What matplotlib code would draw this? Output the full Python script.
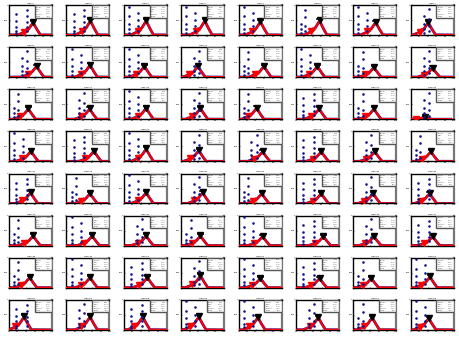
import matplotlib
matplotlib.use("Agg")
import matplotlib.pyplot as plt
from matplotlib.patches import Rectangle

# peak position (x, 0-100) and peak height (y, 0-1000) of each panel, row by row
peak_x = [
    [56, 56, 52, 55, 51, 55, 52, 41],
    [64, 55, 48, 39, 59, 50, 48, 51],
    [45, 54, 52, 45, 42, 54, 48, 33],
    [51, 64, 52, 41, 56, 59, 50, 47],
    [50, 55, 52, 50, 54, 59, 46, 44],
    [56, 60, 52, 45, 56, 64, 48, 51],
    [48, 55, 55, 45, 51, 55, 42, 45],
    [35, 55, 44, 41, 45, 52, 44, 42],
]
peak_h = [
    [410, 470, 470, 470, 440, 470, 420, 410],
    [360, 400, 360, 360, 360, 360, 320, 300],
    [340, 340, 370, 360, 370, 340, 340, 60],
    [340, 340, 410, 360, 320, 320, 320, 320],
    [360, 330, 360, 360, 330, 330, 330, 330],
    [320, 320, 320, 320, 300, 300, 300, 300],
    [340, 340, 340, 400, 310, 310, 310, 360],
    [430, 430, 430, 430, 410, 410, 410, 380],
]

# line shape around the peak (offset in x, fraction of peak height)
shape_dx = [-60, -35, -22, -10, 0, 9, 17, 60]
shape_fy = [0, 0.01, 0.2, 0.5, 1.0, 0.45, 0.01, 0]

# blue dot patterns (x, y)
dots_x = [
    [17, 17, 17, 17, 17, 42, 42, 42, 42, 42],
    [12, 12, 12, 12, 12, 33, 33, 33, 33],
    [30, 30, 30, 30, 42, 42, 42, 42],
    [12, 12, 12, 22, 22, 22, 22],
]
dots_y = [
    [700, 470, 280, 140, 60, 830, 640, 440, 280, 140],
    [950, 620, 380, 200, 80, 750, 500, 300, 120],
    [650, 380, 200, 80, 880, 550, 300, 120],
    [380, 200, 80, 850, 600, 300, 120],
]
dot_pat = [
    [0, 0, 1, 1, 1, 3, 1, 2],
    [2, 1, 1, 2, 3, 1, 3, 2],
    [3, 2, 1, 2, 3, 0, 3, 2],
    [1, 0, 1, 2, 2, 0, 2, 3],
    [0, 3, 1, 2, 3, 0, 2, 0],
    [3, 1, 2, 3, 1, 0, 2, 0],
    [3, 1, 0, 2, 1, 0, 3, 1],
    [0, 2, 0, 1, 1, 2, 3, 1],
]

stat_lines = ["Entries", "Mean", "RMS", "Constant", "Sigma"]
stat_vals = ["2000", "52.31", "11.27", "412.5", "6.21"]

fig = plt.figure(figsize=(4.59, 3.37), dpi=100)
cw, ch = 1 / 8, 1 / 8
fs = 1.6

for r in range(8):
    for c in range(8):
        ax = fig.add_axes([c * cw + 0.157 * cw, (7 - r) * ch + 0.17 * ch,
                           0.75 * cw, 0.71 * ch])
        px, ph = peak_x[r][c], peak_h[r][c]
        lx = [px + d for d in shape_dx]
        ly = [ph * f for f in shape_fy]
        # blue data below red fit
        ax.plot([0] + lx, [0] + ly, color="#1a1a9a", lw=2.0, zorder=2)
        ax.plot(lx, ly, color="red", lw=1.5, zorder=3)
        ax.plot([lx[-1], 100], [0, 0], color="#9b1010", lw=1.0, zorder=3)
        # thick red part on the rise
        ax.plot([px - 22, px - 12], [ph * 0.2, ph * 0.45], color="red",
                lw=3, zorder=4, solid_capstyle="butt")
        ax.plot([px - 20], [ph * 0.28], marker="v", color="red", ms=4,
                zorder=4)
        # peak marker
        ax.plot([px], [ph + 20], marker="v", color="black", ms=5, zorder=5)
        ax.plot([px - 5, px + 5], [ph + 60, ph + 60], color="black", lw=1.2,
                zorder=5)
        p = dot_pat[r][c]
        ax.scatter(dots_x[p], dots_y[p], s=3.5, color="#14148a", zorder=6,
                   linewidths=0)
        ax.set_xlim(0, 100)
        ax.set_ylim(0, 1000)
        ax.set_xticks([0, 20, 40, 60, 80, 100])
        ax.set_xticklabels(["0", "20", "40", "60", "80", "100"])
        ax.set_yticks([0, 500, 1000])
        ax.set_yticklabels(["", "500", "1"])
        ax.tick_params(labelsize=fs, length=1, width=0.4, pad=0.5,
                       direction="in")
        ax.set_title("Gap %d" % (r * 8 + c), fontsize=fs, pad=0.8)
        for s in ["left", "top", "bottom"]:
            ax.spines[s].set_linewidth(1.0)
            ax.spines[s].set_color("black")
        ax.spines["right"].set_linewidth(1.6)
        ax.spines["right"].set_color("#777777")
        # stats box
        ax.add_patch(Rectangle((0.6, 0.58), 0.4, 0.42, transform=ax.transAxes,
                               facecolor="white", edgecolor="#555555",
                               lw=1.0, zorder=7))
        for i in range(5):
            y = 0.93 - i * 0.075
            ax.text(0.63, y, stat_lines[i], transform=ax.transAxes,
                    fontsize=1.2, color="#444444", va="center", zorder=8)
            ax.text(0.97, y, stat_vals[i], transform=ax.transAxes,
                    fontsize=1.2, color="#444444", va="center", ha="right",
                    zorder=8)

fig.savefig("out.png", dpi=100)
